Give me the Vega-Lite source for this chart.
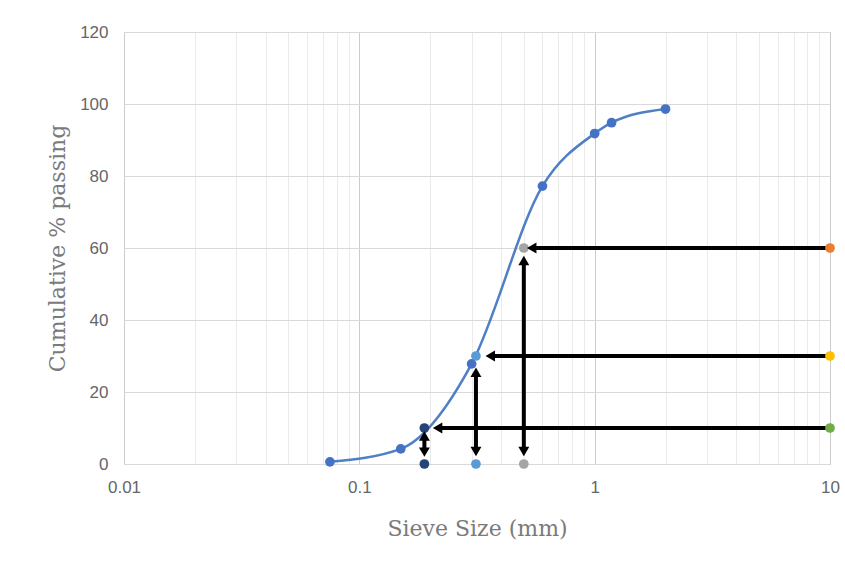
{
  "$schema": "https://vega.github.io/schema/vega-lite/v6.json",
  "width": 706,
  "height": 432,
  "padding": {"left": 124, "top": 32, "right": 15, "bottom": 106},
  "autosize": {"type": "none"},
  "background": "white",
  "datasets": {
    "curve": [
      {"x": 0.075, "y": 0.6},
      {"x": 0.15, "y": 4.2},
      {"x": 0.3, "y": 27.8},
      {"x": 0.6, "y": 77.2},
      {"x": 1.0, "y": 91.8},
      {"x": 1.18, "y": 94.8},
      {"x": 2.0, "y": 98.6}
    ],
    "markers": [
      {"x": 0.075, "y": 0.6, "series": "Gradation"},
      {"x": 0.15, "y": 4.2, "series": "Gradation"},
      {"x": 0.3, "y": 27.8, "series": "Gradation"},
      {"x": 0.6, "y": 77.2, "series": "Gradation"},
      {"x": 1.0, "y": 91.8, "series": "Gradation"},
      {"x": 1.18, "y": 94.8, "series": "Gradation"},
      {"x": 2.0, "y": 98.6, "series": "Gradation"},
      {"x": 0.189, "y": 10, "series": "D10"},
      {"x": 0.189, "y": 0, "series": "D10"},
      {"x": 0.313, "y": 30, "series": "D30"},
      {"x": 0.313, "y": 0, "series": "D30"},
      {"x": 0.5, "y": 60, "series": "D60"},
      {"x": 0.5, "y": 0, "series": "D60"},
      {"x": 10, "y": 60, "series": "P60"},
      {"x": 10, "y": 30, "series": "P30"},
      {"x": 10, "y": 10, "series": "P10"}
    ],
    "arrows": [
      {"x": 0.54, "y": 60, "x2": 10, "y2": 60},
      {"x": 0.36, "y": 30, "x2": 10, "y2": 30},
      {"x": 0.215, "y": 10, "x2": 10, "y2": 10},
      {"x": 0.5, "y": 4, "x2": 0.5, "y2": 56.5},
      {"x": 0.313, "y": 4, "x2": 0.313, "y2": 25.5},
      {"x": 0.189, "y": 3.5, "x2": 0.189, "y2": 7.5}
    ],
    "heads": [
      {"x": 0.54, "y": 60, "dir": "left"},
      {"x": 0.36, "y": 30, "dir": "left"},
      {"x": 0.215, "y": 10, "dir": "left"},
      {"x": 0.5, "y": 56.5, "dir": "up"},
      {"x": 0.5, "y": 3.5, "dir": "down"},
      {"x": 0.313, "y": 25.5, "dir": "up"},
      {"x": 0.313, "y": 3.5, "dir": "down"},
      {"x": 0.189, "y": 7.8, "dir": "up"},
      {"x": 0.189, "y": 3.3, "dir": "down"}
    ]
  },
  "encoding": {
    "x": {
      "field": "x",
      "type": "quantitative",
      "scale": {"type": "log", "domain": [0.01, 10], "nice": false},
      "axis": {
        "title": "Sieve Size (mm)",
        "values": [0.01, 0.02, 0.03, 0.04, 0.05, 0.06, 0.07, 0.08, 0.09, 0.1, 0.2, 0.3, 0.4, 0.5, 0.6, 0.7, 0.8, 0.9, 1, 2, 3, 4, 5, 6, 7, 8, 9, 10],
        "format": "~g",
        "labelExpr": "(datum.value == 0.01 || datum.value == 0.1 || datum.value == 1 || datum.value == 10) ? datum.label : ''",
        "gridColor": {
          "condition": {"test": "datum.value == 0.01 || datum.value == 0.1 || datum.value == 1 || datum.value == 10", "value": "#cccccc"},
          "value": "#ebebeb"
        },
        "labelPadding": 15,
        "labelFlush": false,
        "labelOverlap": false,
        "domain": true,
        "domainColor": "#d9d9d9",
        "titleY": 64,
        "titleBaseline": "middle"
      }
    },
    "y": {
      "field": "y",
      "type": "quantitative",
      "scale": {"domain": [0, 120], "nice": false},
      "axis": {
        "title": "Cumulative % passing",
        "values": [0, 20, 40, 60, 80, 100, 120],
        "labelPadding": 16,
        "titleX": -67,
        "titleBaseline": "middle"
      }
    }
  },
  "layer": [
    {
      "data": {"name": "curve"},
      "mark": {"type": "line", "interpolate": "monotone", "color": "#4f7fc4", "strokeWidth": 2.5}
    },
    {
      "data": {"name": "arrows"},
      "mark": {"type": "rule", "color": "#000000", "strokeWidth": 4},
      "encoding": {
        "x2": {"field": "x2"},
        "y2": {"field": "y2"}
      }
    },
    {
      "data": {"name": "markers"},
      "mark": {"type": "point", "filled": true, "opacity": 1, "size": 95},
      "encoding": {
        "color": {
          "field": "series",
          "type": "nominal",
          "scale": {
            "domain": ["Gradation", "D10", "D30", "D60", "P60", "P30", "P10"],
            "range": ["#4472c4", "#264478", "#5b9bd5", "#a5a5a5", "#ed7d31", "#ffc000", "#70ad47"]
          },
          "legend": null
        }
      }
    },
    {
      "data": {"name": "heads"},
      "mark": {"type": "point", "filled": true, "opacity": 1, "size": 120, "color": "#000000"},
      "encoding": {
        "shape": {
          "field": "dir",
          "type": "nominal",
          "scale": {"domain": ["left", "up", "down"], "range": ["triangle-left", "triangle-up", "triangle-down"]},
          "legend": null
        }
      }
    }
  ],
  "config": {
    "view": {"stroke": "#d9d9d9"},
    "axis": {
      "labelFont": "Liberation Sans",
      "labelFontSize": 17,
      "labelColor": "#666666",
      "titleFont": "DejaVu Serif",
      "titleFontSize": 22,
      "titleFontWeight": "normal",
      "titleColor": "#7a7a7a",
      "ticks": false,
      "domain": false,
      "gridColor": "#d9d9d9",
      "gridWidth": 1
    }
  }
}
